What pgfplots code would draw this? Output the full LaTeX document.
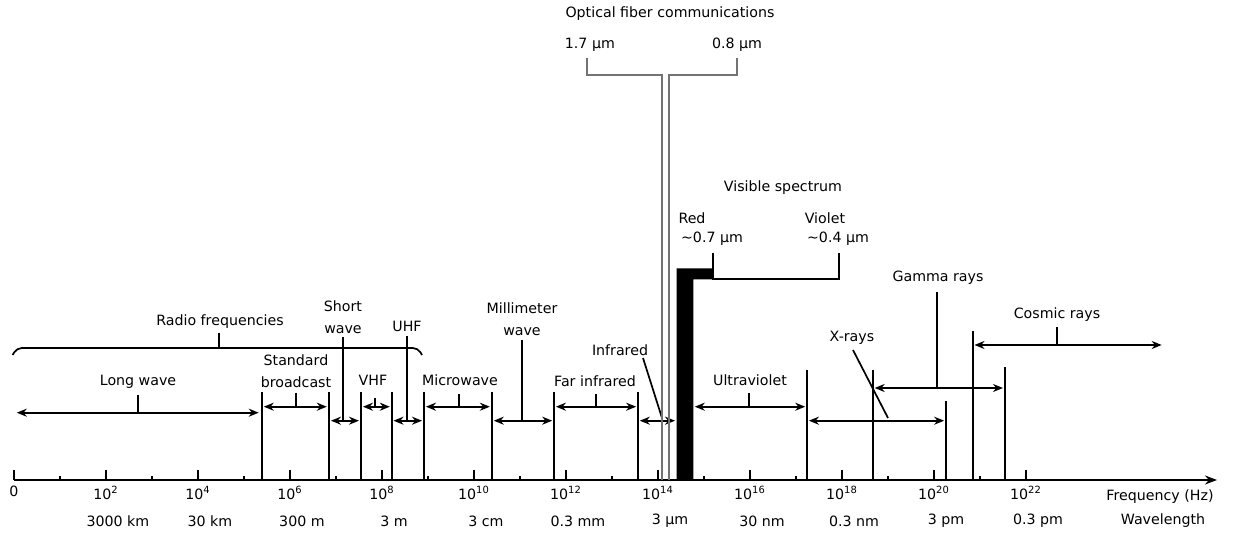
\documentclass[border=0pt]{standalone}
\usepackage{fontspec}
\setmainfont{DejaVu Sans}
\usepackage{pgfplots}
\pgfplotsset{compat=1.18}
\usetikzlibrary{arrows.meta}
\begin{document}
\begin{tikzpicture}[font=\fontsize{7.1}{10.8}\selectfont,
  dbl/.style={line width=0.85pt, {Stealth[length=5pt,width=4pt]}-{Stealth[length=5pt,width=4pt]}},
  ld/.style={line width=0.85pt},
  fib/.style={line width=0.9pt, black!55}]
\begin{axis}[
  x=23pt, y=0.5pt,
  xmin=0, xmax=26.152, ymin=0, ymax=480,
  axis x line=bottom, axis y line=none,
  clip=false, enlargelimits=false,
  x axis line style={line width=0.85pt, -{Stealth[length=6pt,width=4.5pt]}},
  xtick={0,2,4,6,8,10,12,14,16,18,20,22},
  xticklabels={0,10\textsuperscript{2},10\textsuperscript{4},10\textsuperscript{6},10\textsuperscript{8},10\textsuperscript{10},10\textsuperscript{12},10\textsuperscript{14},10\textsuperscript{16},10\textsuperscript{18},10\textsuperscript{20},10\textsuperscript{22}},
  minor xtick={1,3,5,7,9,11,13,15,17,19,21},
  tick align=inside,
  major tick length=5pt, minor tick length=1.8pt,
  tick style={black, line width=0.85pt},
  xticklabel style={font=\fontsize{7.1}{8}\selectfont, inner sep=1pt, yshift=-2pt},
]
% region boundaries
\addplot[ycomb, mark=none, line width=0.85pt] coordinates {
 (5.385,88) (6.848,88) (7.543,88) (8.211,88) (8.913,88) (10.385,88)
 (11.739,88) (13.565,88) (17.239,110) (18.667,110) (20.261,79)
 (20.841,149) (21.543,113)};
% range arrows
\addplot[dbl] coordinates {(0.06,67.3) (5.32,67.3)};
\addplot[dbl] coordinates {(5.43,73.3) (6.80,73.3)};
\addplot[dbl] coordinates {(6.89,59.3) (7.50,59.3)};
\addplot[dbl] coordinates {(7.585,73.3) (8.17,73.3)};
\addplot[dbl] coordinates {(8.25,59.3) (8.87,59.3)};
\addplot[dbl] coordinates {(8.955,73.3) (10.345,73.3)};
\addplot[dbl] coordinates {(10.43,59.3) (11.70,59.3)};
\addplot[dbl] coordinates {(11.78,73.3) (13.525,73.3)};
\addplot[dbl] coordinates {(13.605,59.3) (14.37,59.3)};
\addplot[dbl] coordinates {(14.80,73.3) (17.20,73.3)};
\addplot[dbl] coordinates {(17.28,59.3) (20.22,59.3)};
\addplot[dbl] coordinates {(18.71,92) (21.50,92)};
\addplot[dbl] coordinates {(20.88,135) (24.95,135)};
% leaders
\addplot[ld] coordinates {(2.702,85) (2.702,67.3)};
\addplot[ld] coordinates {(6.130,87.3) (6.130,73.3)};
\addplot[ld] coordinates {(7.159,143.3) (7.159,59.3)};
\addplot[ld] coordinates {(7.848,82) (7.848,73.3)};
\addplot[ld] coordinates {(8.537,144) (8.537,59.3)};
\addplot[ld] coordinates {(9.680,86) (9.680,73.3)};
\addplot[ld] coordinates {(11.037,140) (11.037,59.3)};
\addplot[ld] coordinates {(12.646,86) (12.646,73.3)};
\addplot[ld] coordinates {(13.674,122) (14.087,62)};
\addplot[ld] coordinates {(15.978,87) (15.978,73.3)};
\addplot[ld] coordinates {(18.239,130) (19.0,62)};
\addplot[ld] coordinates {(20.059,188) (20.059,92)};
\addplot[ld] coordinates {(22.667,153) (22.667,135)};
\addplot[ld] coordinates {(4.463,147) (4.463,132)};
% radio brace
\addplot[ld, rounded corners=2.5pt] coordinates {(-0.03,125) (0.06,132) (8.78,132) (8.87,125)};
% optical fibre window
\addplot[fib] coordinates {(12.45,422) (12.45,405) (14.087,405) (14.087,0)};
\addplot[fib] coordinates {(15.711,422) (15.711,405) (14.239,405) (14.239,0)};
% visible spectrum
\addplot[fill=black, draw=none] coordinates {(14.407,211.7) (15.202,211.7) (15.202,200.7) (14.767,200.7)} \closedcycle;
\addplot[ld] coordinates {(15.202,227.3) (15.202,200.7) (17.935,200.7) (17.935,227.3)};
% labels
\node at (axis cs:14.261,466) {Optical fiber communications};
\node at (axis cs:12.52,435) {1.7 µm};
\node at (axis cs:15.717,435) {0.8 µm};
\node at (axis cs:16.717,292) {Visible spectrum};
\node at (axis cs:14.739,262) {Red};
\node at (axis cs:15.174,241) {\textasciitilde0.7 µm};
\node at (axis cs:17.63,262) {Violet};
\node at (axis cs:17.913,241) {\textasciitilde0.4 µm};
\node at (axis cs:20.087,202) {Gamma rays};
\node at (axis cs:22.674,165) {Cosmic rays};
\node at (axis cs:18.217,142) {X-rays};
\node at (axis cs:4.478,158) {Radio frequencies};
\node[align=center] at (axis cs:7.152,162.5) {Short\\wave};
\node at (axis cs:8.543,154) {UHF};
\node[align=center] at (axis cs:11.043,161) {Millimeter\\wave};
\node at (axis cs:13.174,130) {Infrared};
\node at (axis cs:2.696,98) {Long wave};
\node[align=center] at (axis cs:6.13,109) {Standard\\broadcast};
\node at (axis cs:7.804,100) {VHF};
\node at (axis cs:9.696,100) {Microwave};
\node at (axis cs:12.63,99) {Far infrared};
\node at (axis cs:16.0,100) {Ultraviolet};
\node at (axis cs:24.913,-17) {Frequency (Hz)};
\node at (axis cs:24.978,-41) {Wavelength};
\node at (axis cs:2.26,-41) {3000 km};
\node at (axis cs:4.26,-41) {30 km};
\node at (axis cs:6.26,-41) {300 m};
\node at (axis cs:8.26,-41) {3 m};
\node at (axis cs:10.26,-41) {3 cm};
\node at (axis cs:12.26,-41) {0.3 mm};
\node at (axis cs:14.26,-41) {3 µm};
\node at (axis cs:16.26,-41) {30 nm};
\node at (axis cs:18.26,-41) {0.3 nm};
\node at (axis cs:20.26,-41) {3 pm};
\node at (axis cs:22.26,-41) {0.3 pm};
\coordinate (BL) at (axis cs:-0.3043,-55);
\coordinate (TR) at (axis cs:26.587,480);
\end{axis}
\pgfresetboundingbox
\useasboundingbox (BL) rectangle (TR);
\end{tikzpicture}
\end{document}
